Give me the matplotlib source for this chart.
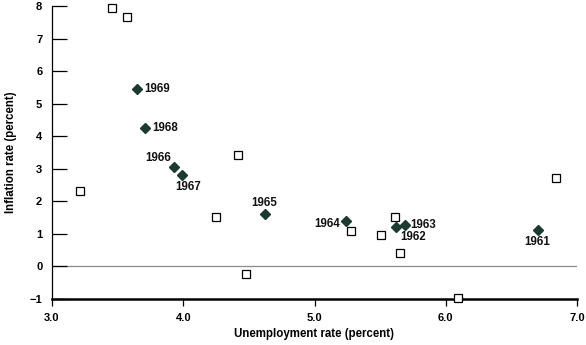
import matplotlib
matplotlib.use("Agg")
import matplotlib.pyplot as plt

# Labeled years (filled diamonds)
years = ["1961", "1962", "1963", "1964", "1965", "1966", "1967", "1968", "1969"]
unemp_60s = [6.70, 5.62, 5.69, 5.24, 4.62, 3.93, 3.99, 3.71, 3.65]
infl_60s = [1.11, 1.21, 1.28, 1.39, 1.60, 3.06, 2.81, 4.25, 5.44]

# Other years (open squares)
unemp_other = [3.46, 3.57, 4.42, 3.21, 4.25, 4.48, 5.28, 5.61, 5.51, 5.65, 6.09, 6.84]
infl_other = [7.94, 7.67, 3.42, 2.33, 1.52, -0.22, 1.10, 1.52, 0.96, 0.40, -0.96, 2.71]

# label offsets in points (dx, dy, ha, va)
label_pos = {
    "1961": (0, -4, "center", "top"),
    "1962": (3, -3, "left", "top"),
    "1963": (4, 0, "left", "center"),
    "1964": (-4, -2, "right", "center"),
    "1965": (0, 4, "center", "bottom"),
    "1966": (-2, 2, "right", "bottom"),
    "1967": (-5, -4, "left", "top"),
    "1968": (5, 0, "left", "center"),
    "1969": (5, 0, "left", "center"),
}

plt.rcParams['font.family'] = ['Liberation Sans', 'DejaVu Sans']

fig = plt.figure(figsize=(5.86, 3.45), dpi=100)
ax = fig.add_axes([52/586, 1-299/345, (577-52)/586, (299-6)/345])

ax.set_xlim(3.0, 7.0)
ax.set_ylim(-1, 8)

ax.axhline(0, color="#8a8a8a", lw=0.9, zorder=1)

ax.plot(unemp_other, infl_other, linestyle="none", marker="s", markersize=5.3,
        markerfacecolor="white", markeredgecolor="black", markeredgewidth=0.9,
        zorder=3, clip_on=False)
ax.plot(unemp_60s, infl_60s, linestyle="none", marker="D", markersize=5.4,
        markerfacecolor="#1d3a31", markeredgecolor="#1d3a31", zorder=4)

for yr, x, y in zip(years, unemp_60s, infl_60s):
    dx, dy, ha, va = label_pos[yr]
    ax.annotate(yr, (x, y), xytext=(dx, dy), textcoords="offset points",
                ha=ha, va=va, fontsize=8.3, fontweight="bold", color="#111111", zorder=5)

for s in ["top", "right"]:
    ax.spines[s].set_visible(False)
ax.spines["left"].set_linewidth(0.9)
ax.spines["bottom"].set_linewidth(1.8)

ax.set_xticks([3.0, 4.0, 5.0, 6.0, 7.0])
ax.set_xticklabels(["3.0", "4.0", "5.0", "6.0", "7.0"])
ax.set_yticks([-1, 0, 1, 2, 3, 4, 5, 6, 7, 8])
ax.set_yticklabels(["\u22121", "0", "1", "2", "3", "4", "5", "6", "7", "8"])

ax.tick_params(axis="y", direction="in", length=11, width=0.9, pad=7, labelsize=8)
ax.tick_params(axis="x", direction="out", length=5, width=0.9, pad=5, labelsize=8)
for lbl in ax.get_xticklabels() + ax.get_yticklabels():
    lbl.set_fontweight("bold")

ax.set_xlabel("Unemployment rate (percent)", fontsize=8.3, fontweight="bold", labelpad=4)
ax.set_ylabel("Inflation rate (percent)", fontsize=8.3, fontweight="bold", labelpad=9)

fig.savefig("out.png", dpi=100)
